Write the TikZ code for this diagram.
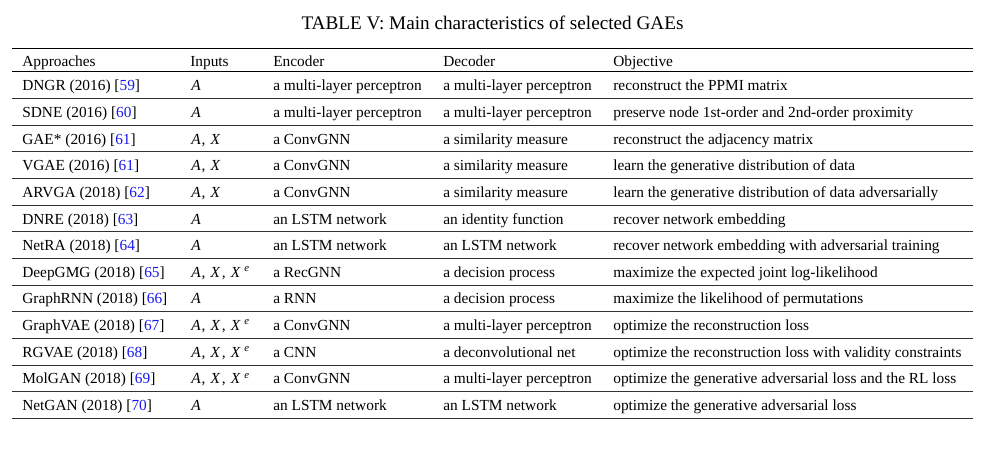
\documentclass[tikz,border=0pt]{standalone}
\usepackage{fontspec}
\setmainfont{Liberation Serif}
\definecolor{citeblue}{RGB}{25,25,235}
\newcommand{\rfc}[1]{[\textcolor{citeblue}{#1}]}
\newcommand{\inA}{\textit{A}}
\newcommand{\inAX}{\textit{A}\kern0.5pt,\kern3.2pt\textit{X}}
\newcommand{\inAXE}{\textit{A}\kern0.5pt,\kern3.2pt\textit{X}\kern1pt,\kern3.2pt\textit{X}\kern2.2pt\textsuperscript{\textit{e}}}
\tikzset{
cell/.style={anchor=base west, inner sep=0pt, font=\fontsize{9.6}{12}\selectfont},
headline/.style={anchor=base, inner sep=0pt, font=\fontsize{12}{14}\selectfont},
thinrule/.style={line width=0.5pt, black!80},
thickrule/.style={line width=0.8pt, black}
}

\begin{document}
\begin{tikzpicture}[x=0.625pt, y=-0.625pt]
  \useasboundingbox (0,0) rectangle (998,450);
  \node[headline] (title) at (492.5,29) {TABLE V: Main characteristics of selected GAEs};
  % header
  \draw[thickrule] (12,48.3) -- (973,48.3);
  \node[cell] (happ) at (22,66.7) {Approaches};
  \node[cell] (hinp) at (190,66.7) {Inputs};
  \node[cell] (henc) at (273,66.7) {Encoder};
  \node[cell] (hdec) at (443,66.7) {Decoder};
  \node[cell] (hobj) at (613,66.7) {Objective};
  \draw[thickrule] (12,71.7) -- (973,71.7);
  % rows
  \foreach \app/\rf/\inp/\enc/\dec/\obj [count=\i from 0] in {
    DNGR (2016)/59/\inA/a multi-layer perceptron/a multi-layer perceptron/reconstruct the PPMI matrix,
    SDNE (2016)/60/\inA/a multi-layer perceptron/a multi-layer perceptron/preserve node 1st-order and 2nd-order proximity,
    GAE* (2016)/61/\inAX/a ConvGNN/a similarity measure/reconstruct the adjacency matrix,
    VGAE (2016)/61/\inAX/a ConvGNN/a similarity measure/learn the generative distribution of data,
    ARVGA (2018)/62/\inAX/a ConvGNN/a similarity measure/learn the generative distribution of data adversarially,
    DNRE (2018)/63/\inA/an LSTM network/an identity function/recover network embedding,
    NetRA (2018)/64/\inA/an LSTM network/an LSTM network/recover network embedding with adversarial training,
    DeepGMG (2018)/65/\inAXE/a RecGNN/a decision process/maximize the expected joint log-likelihood,
    GraphRNN (2018)/66/\inA/a RNN/a decision process/maximize the likelihood of permutations,
    GraphVAE (2018)/67/\inAXE/a ConvGNN/a multi-layer perceptron/optimize the reconstruction loss,
    RGVAE (2018)/68/\inAXE/a CNN/a deconvolutional net/optimize the reconstruction loss with validity constraints,
    MolGAN (2018)/69/\inAXE/a ConvGNN/a multi-layer perceptron/optimize the generative adversarial loss and the RL loss,
    NetGAN (2018)/70/\inA/an LSTM network/an LSTM network/optimize the generative adversarial loss}{
    \pgfmathsetmacro\yb{71.7+26.66*\i+19}
    \pgfmathsetmacro\yl{71.7+26.66*(\i+1)}
    \node[cell] (app\i) at (22,\yb) {\app{} \rfc{\rf}};
    \node[cell] (inp\i) at (191,\yb) {\inp};
    \node[cell] (enc\i) at (273,\yb) {\enc};
    \node[cell] (dec\i) at (443,\yb) {\dec};
    \node[cell] (obj\i) at (613,\yb) {\obj};
    \draw[thinrule] (12,\yl) -- (973,\yl);
  }
\end{tikzpicture}
\end{document}
